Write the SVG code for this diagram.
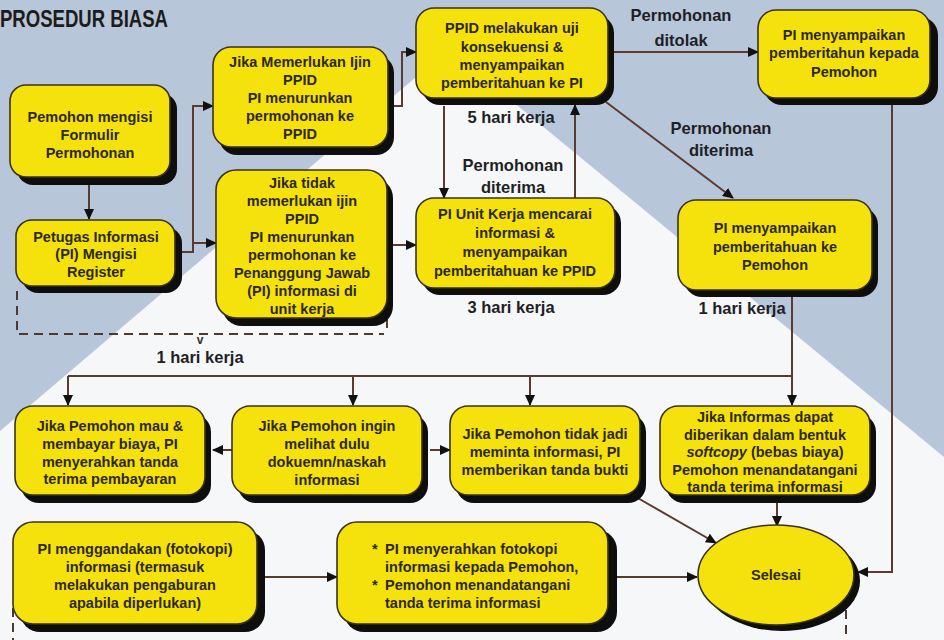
<svg xmlns="http://www.w3.org/2000/svg" width="944" height="640" viewBox="0 0 944 640">
<defs>
<marker id="ah" markerUnits="userSpaceOnUse" markerWidth="11" markerHeight="10" refX="10" refY="5" orient="auto">
<path d="M0,0 L11,5 L0,10 z" fill="#111"/>
</marker>
<style>
.sh{fill:#0e0e0e}
.bx{fill:#f5e10c;stroke:#3a3120;stroke-width:1.6}
.t{font-family:"Liberation Sans",Arial,sans-serif;font-weight:bold;font-size:14.5px;fill:#2d2914;text-anchor:middle}
.tl{font-family:"Liberation Sans",Arial,sans-serif;font-weight:bold;font-size:14.5px;fill:#2d2914}
.lb{font-family:"Liberation Sans",Arial,sans-serif;font-weight:bold;font-size:16.5px;fill:#1f1f26;text-anchor:middle}
.c{fill:none;stroke:#5b3b2f;stroke-width:2}
.ca{fill:none;stroke:#5b3b2f;stroke-width:2;marker-end:url(#ah)}
.d{fill:none;stroke:#4a3a30;stroke-width:2;stroke-dasharray:9 6}
</style>
</defs>
<rect width="944" height="640" fill="#b8c6d9"/>
<polygon points="449,49 944,457 944,640 0,640 0,431" fill="#f6f7f9"/>
<text x="0" y="27" font-family="Liberation Sans,Arial,sans-serif" font-weight="bold" font-size="23" fill="#1c1c1c" textLength="168" lengthAdjust="spacingAndGlyphs">PROSEDUR BIASA</text>

<g id="connectors">
<path class="ca" d="M89,185 V219"/>
<path class="ca" d="M182,252 H193 V106 H213"/>
<path class="ca" d="M193,243 H216"/>
<path class="ca" d="M393,106 H402 V52 H416"/>
<path class="ca" d="M392,245 H416"/>
<path class="ca" d="M608,52 H758"/>
<path class="ca" d="M444,106 V198"/>
<path class="ca" d="M575,198 V105"/>
<path class="ca" d="M606,102 L733,198"/>
<path class="c" d="M792,297 V376 M68,376 H792"/>
<path class="ca" d="M68,376 V405"/>
<path class="ca" d="M353,376 V405"/>
<path class="ca" d="M530,376 V405"/>
<path class="ca" d="M792,376 V405"/>
<path class="ca" d="M232,450 H213"/>
<path class="ca" d="M430,450 H450"/>
<path class="ca" d="M636,497 L716,543"/>
<path class="ca" d="M777,503 V526"/>
<path class="ca" d="M892,105 V572 H858"/>
<path class="ca" d="M265,577 H337"/>
<path class="ca" d="M617,577 H697"/>
<path class="d" d="M17,291 V334 H384"/>
<path class="c" d="M387,319 V328"/>
<path class="d" d="M13,608 V640"/>
<path class="d" d="M846,610 V640"/>
</g>

<g id="labels">
<text x="200" y="344" font-family="Liberation Sans,Arial,sans-serif" font-weight="bold" font-size="12" fill="#3a2e28" text-anchor="middle">v</text>
<text class="lb" x="200" y="363">1 hari kerja</text>
<text class="lb" x="511" y="123">5 hari kerja</text>
<text class="lb" x="513" y="171">Permohonan</text>
<text class="lb" x="513" y="193">diterima</text>
<text class="lb" x="681" y="21">Permohonan</text>
<text class="lb" x="681" y="46">ditolak</text>
<text class="lb" x="721" y="134">Permohonan</text>
<text class="lb" x="721" y="156">diterima</text>
<text class="lb" x="511" y="313">3 hari kerja</text>
<text class="lb" x="742" y="314">1 hari kerja</text>
</g>

<g id="n1">
<rect class="sh" x="17" y="93" width="160" height="92" rx="16"/>
<rect class="bx" x="10" y="85" width="160" height="92" rx="16"/>
<text class="t" x="90" y="122">Pemohon mengisi</text>
<text class="t" x="90" y="140">Formulir</text>
<text class="t" x="90" y="158">Permohonan</text>
</g>
<g id="n2">
<rect class="sh" x="22" y="227" width="160" height="66" rx="16"/>
<rect class="bx" x="16" y="220" width="159" height="66" rx="16"/>
<text class="t" x="96" y="242">Petugas Informasi</text>
<text class="t" x="96" y="259">(PI) Mengisi</text>
<text class="t" x="96" y="277">Register</text>
</g>
<g id="n3">
<rect class="sh" x="219" y="55" width="175" height="100" rx="18"/>
<rect class="bx" x="213" y="47" width="175" height="100" rx="18"/>
<text class="t" x="300" y="67">Jika Memerlukan Ijin</text>
<text class="t" x="300" y="85">PPID</text>
<text class="t" x="300" y="103">PI menurunkan</text>
<text class="t" x="300" y="121">permohonan ke</text>
<text class="t" x="300" y="139">PPID</text>
</g>
<g id="n4">
<rect class="sh" x="222" y="178" width="171" height="148" rx="20"/>
<rect class="bx" x="216" y="170" width="171" height="148" rx="20"/>
<text class="t" x="302" y="188">Jika tidak</text>
<text class="t" x="302" y="206">memerlukan ijin</text>
<text class="t" x="302" y="224">PPID</text>
<text class="t" x="302" y="242">PI menurunkan</text>
<text class="t" x="302" y="260">permohonan ke</text>
<text class="t" x="302" y="278">Penanggung Jawab</text>
<text class="t" x="302" y="296">(PI) informasi di</text>
<text class="t" x="302" y="314">unit kerja</text>
</g>
<g id="n5">
<rect class="sh" x="422" y="15" width="192" height="90" rx="18"/>
<rect class="bx" x="416" y="8" width="192" height="90" rx="18"/>
<text class="t" x="512" y="33">PPID melakukan uji</text>
<text class="t" x="512" y="52">konsekuensi &amp;</text>
<text class="t" x="512" y="70">menyampaikan</text>
<text class="t" x="512" y="88">pemberitahuan ke PI</text>
</g>
<g id="n6">
<rect class="sh" x="764" y="17" width="174" height="88" rx="18"/>
<rect class="bx" x="758" y="10" width="172" height="88" rx="18"/>
<text class="t" x="844" y="40">PI menyampaikan</text>
<text class="t" x="844" y="58">pemberitahun kepada</text>
<text class="t" x="844" y="77">Pemohon</text>
</g>
<g id="n7">
<rect class="sh" x="422" y="205" width="199" height="90" rx="18"/>
<rect class="bx" x="416" y="198" width="199" height="90" rx="18"/>
<text class="t" x="515" y="219">PI Unit Kerja mencarai</text>
<text class="t" x="515" y="238">informasi &amp;</text>
<text class="t" x="515" y="257">menyampaikan</text>
<text class="t" x="515" y="276">pemberitahuan ke PPID</text>
</g>
<g id="n8">
<rect class="sh" x="684" y="207" width="194" height="90" rx="18"/>
<rect class="bx" x="678" y="200" width="194" height="90" rx="18"/>
<text class="t" x="775" y="233">PI menyampaikan</text>
<text class="t" x="775" y="252">pemberitahuan ke</text>
<text class="t" x="775" y="270">Pemohon</text>
</g>
<g id="na">
<rect class="sh" x="21" y="414" width="190" height="89" rx="18"/>
<rect class="bx" x="15" y="406" width="190" height="89" rx="18"/>
<text class="t" x="110" y="431">Jika Pemohon mau &amp;</text>
<text class="t" x="110" y="449">membayar biaya, PI</text>
<text class="t" x="110" y="467">menyerahkan tanda</text>
<text class="t" x="110" y="484">terima pembayaran</text>
</g>
<g id="nb">
<rect class="sh" x="238" y="414" width="190" height="89" rx="18"/>
<rect class="bx" x="232" y="406" width="190" height="89" rx="18"/>
<text class="t" x="327" y="431">Jika Pemohon ingin</text>
<text class="t" x="327" y="449">melihat dulu</text>
<text class="t" x="327" y="467">dokuemn/naskah</text>
<text class="t" x="327" y="485">informasi</text>
</g>
<g id="nc">
<rect class="sh" x="456" y="414" width="190" height="89" rx="18"/>
<rect class="bx" x="450" y="406" width="190" height="89" rx="18"/>
<text class="t" x="545" y="439">Jika Pemohon tidak jadi</text>
<text class="t" x="545" y="457">meminta informasi, PI</text>
<text class="t" x="545" y="475">memberikan tanda bukti</text>
</g>
<g id="nd">
<rect class="sh" x="666" y="414" width="210" height="89" rx="18"/>
<rect class="bx" x="660" y="406" width="210" height="89" rx="18"/>
<text class="t" x="765" y="422">Jika Informas dapat</text>
<text class="t" x="765" y="440">diberikan dalam bentuk</text>
<text class="t" x="765" y="457"><tspan font-style="italic">softcopy</tspan> (bebas biaya)</text>
<text class="t" x="765" y="475">Pemohon menandatangani</text>
<text class="t" x="765" y="492">tanda terima informasi</text>
</g>
<g id="ne">
<rect class="sh" x="20" y="530" width="245" height="102" rx="20"/>
<rect class="bx" x="13" y="522" width="244" height="102" rx="20"/>
<text class="t" x="135" y="554">PI menggandakan (fotokopi)</text>
<text class="t" x="135" y="572">informasi (termasuk</text>
<text class="t" x="135" y="590">melakukan pengaburan</text>
<text class="t" x="135" y="608">apabila diperlukan)</text>
</g>
<g id="nf">
<rect class="sh" x="344" y="530" width="273" height="102" rx="20"/>
<rect class="bx" x="337" y="522" width="271" height="102" rx="20"/>
<text class="tl" x="372" y="554">*</text>
<text class="tl" x="385" y="554">PI menyerahkan fotokopi</text>
<text class="tl" x="385" y="572">informasi kepada Pemohon,</text>
<text class="tl" x="372" y="590">*</text>
<text class="tl" x="385" y="590">Pemohon menandatangani</text>
<text class="tl" x="385" y="608">tanda terima informasi</text>
</g>
<g id="selesai">
<ellipse class="sh" cx="782" cy="581" rx="78" ry="50"/>
<ellipse class="bx" cx="776" cy="575" rx="78" ry="50"/>
<text class="t" x="776" y="580">Selesai</text>
</g>
</svg>
